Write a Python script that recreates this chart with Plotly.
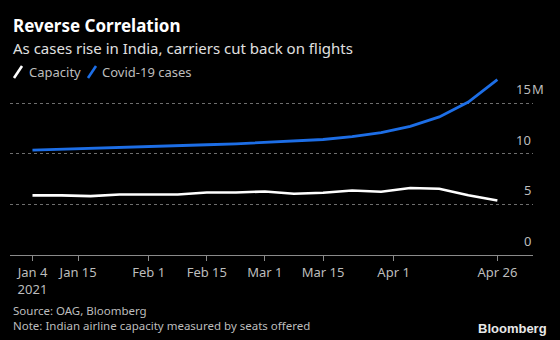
import plotly.graph_objects as go

# Weekly observations, Jan 4 - Apr 26 2021
weeks = ["2021-01-04", "2021-01-11", "2021-01-18", "2021-01-25", "2021-02-01",
         "2021-02-08", "2021-02-15", "2021-02-22", "2021-03-01", "2021-03-08",
         "2021-03-15", "2021-03-22", "2021-03-29", "2021-04-05", "2021-04-12",
         "2021-04-19", "2021-04-26"]
# Indian airline capacity (millions of seats offered)
capacity = [5.9, 5.9, 5.82, 5.98, 5.98, 5.98, 6.18, 6.18, 6.28, 6.05, 6.15,
            6.38, 6.25, 6.62, 6.55, 5.9, 5.38]
# Cumulative Covid-19 cases in India (millions)
cases = [10.36, 10.46, 10.55, 10.64, 10.73, 10.82, 10.9, 10.99, 11.12, 11.25,
         11.42, 11.7, 12.1, 12.72, 13.65, 15.12, 17.33]

x_tick_vals = ["2021-01-04", "2021-01-15", "2021-02-01", "2021-02-15",
               "2021-03-01", "2021-03-15", "2021-04-01", "2021-04-26"]
x_tick_text = ["Jan 4<br>2021", "Jan 15", "Feb 1", "Feb 15", "Mar 1",
               "Mar 15", "Apr 1", "Apr 26"]
y_tick_vals = [0, 5, 10, 15]
y_tick_text = ["0", "5", "10", "15"]

WHITE = "#ffffff"
BLUE = "#1d6ee6"
TEXT = "#bdbdbd"
FONT = "Noto Sans"

W, H = 560, 340
ML, MR, MT, MB = 10, 27, 78, 85
PW, PH = W - ML - MR, H - MT - MB


def to_paper(px, py):
    """Pixel position on the page -> paper coordinates of the plot area."""
    return (px - ML) / PW, (H - MB - py) / PH


fig = go.Figure()
fig.add_trace(go.Scatter(x=weeks, y=capacity, mode="lines",
                         line=dict(color=WHITE, width=2.6), name="Capacity"))
fig.add_trace(go.Scatter(x=weeks, y=cases, mode="lines",
                         line=dict(color=BLUE, width=2.8), name="Covid-19 cases"))

annotations = []
# y-axis labels sitting above each gridline, right aligned
for v, t in zip(y_tick_vals, y_tick_text):
    annotations.append(dict(x=1, xref="paper", y=v, yref="y", text=t,
                            xanchor="right", yanchor="bottom", yshift=3,
                            showarrow=False,
                            font=dict(family=FONT, size=13, color=TEXT)))
annotations.append(dict(x=1, xref="paper", y=15, yref="y", text="M",
                        xanchor="left", yanchor="bottom", yshift=3, xshift=-3,
                        showarrow=False,
                        font=dict(family=FONT, size=13, color=TEXT)))

# headings, legend text and footer (page pixel positions, left aligned)
texts = [
    (12, 25, "<b>Reverse Correlation</b>", 17, "#ffffff"),
    (12, 47.5, "As cases rise in India, carriers cut back on flights", 15, "#e0e0e0"),
    (28, 72, "Capacity", 13, TEXT),
    (101, 72, "Covid-19 cases", 13, TEXT),
    (12, 310, "Source: OAG, Bloomberg", 11.5, TEXT),
    (12, 325, "Note: Indian airline capacity measured by seats offered", 11.5, TEXT),
]
for px, py, t, size, col in texts:
    ax, ay = to_paper(px, py)
    annotations.append(dict(x=ax, y=ay, xref="paper", yref="paper", text=t,
                            xanchor="left", yanchor="middle", showarrow=False,
                            borderpad=0,
                            font=dict(family=FONT, size=size, color=col)))
bx, by = to_paper(548, 328)
annotations.append(dict(x=bx, y=by, xref="paper", yref="paper",
                        text="<b>Bloomberg</b>", xanchor="right", yanchor="middle",
                        showarrow=False, borderpad=0,
                        font=dict(family="Liberation Sans", size=13, color="#e8e8e8")))

# slanted legend keys
shapes = []
for (x0, x1), col in [((14, 22), WHITE), ((88, 96), BLUE)]:
    ax0, ay0 = to_paper(x0, 78)
    ax1, ay1 = to_paper(x1, 66)
    shapes.append(dict(type="line", xref="paper", yref="paper",
                       x0=ax0, y0=ay0, x1=ax1, y1=ay1,
                       line=dict(color=col, width=2.6)))

fig.update_layout(
    width=W, height=H,
    margin=dict(l=ML, r=MR, t=MT, b=MB, pad=0),
    paper_bgcolor="#000000", plot_bgcolor="#000000",
    annotations=annotations, shapes=shapes,
    showlegend=False,
    xaxis=dict(range=["2020-12-29 14:00", "2021-05-04 14:00"],
               tickvals=x_tick_vals, ticktext=x_tick_text,
               ticks="outside", ticklen=5, tickcolor="#8a8a8a", tickwidth=1,
               showline=True, linecolor="#8a8a8a", linewidth=1,
               showgrid=False, zeroline=False,
               tickfont=dict(family=FONT, size=13, color=TEXT)),
    yaxis=dict(range=[0, 17.5], tickvals=[5, 10, 15], showticklabels=False,
               showgrid=True, gridcolor="#6e6e6e", griddash="dot", gridwidth=1,
               zeroline=False, showline=False, fixedrange=True),
)

fig.write_html("out.html")
